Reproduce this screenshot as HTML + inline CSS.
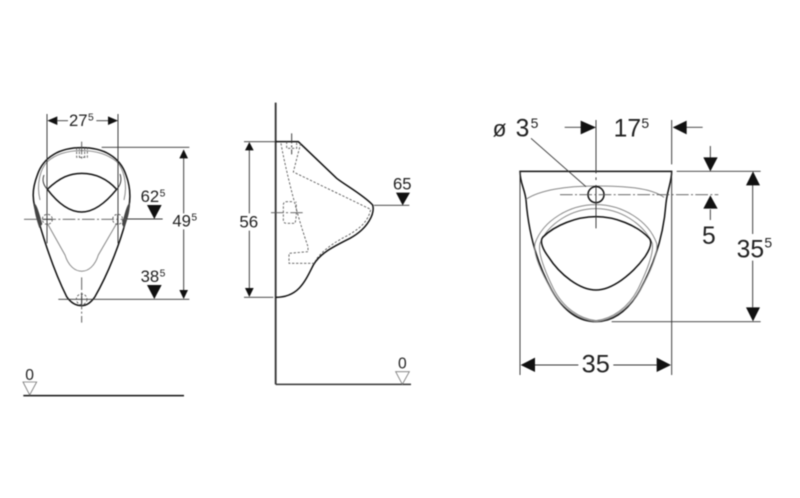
<!DOCTYPE html>
<html><head><meta charset="utf-8">
<style>
html,body{margin:0;padding:0;background:#fff;width:800px;height:498px;overflow:hidden}
svg{display:block;filter:blur(.4px)}
text{font-family:"Liberation Sans",sans-serif;fill:#222}
.d{stroke:#111;fill:none;stroke-width:4.5}
.t{stroke:#333;fill:none;stroke-width:2.8}
.g{stroke:#888;fill:none;stroke-width:3}
.da{stroke:#555;fill:none;stroke-width:2.6;stroke-dasharray:7 5}
.c{stroke:#555;fill:none;stroke-width:2.8;stroke-dasharray:38 7 6 7}
.a{fill:#111;stroke:none}
</style></head>
<body>
<svg width="800" height="498" viewBox="0 0 800 498" xmlns="http://www.w3.org/2000/svg">
<rect width="800" height="498" fill="#fff"/>

<!-- LEFT VIEW -->
<g transform="translate(20,100) scale(.33333)">
  <path class="d" d="M185 143C250 143 300 170 318 225C335 270 332 310 318 360C300 430 265 520 225 590C210 612 195 617 185 617C170 617 155 612 140 590C105 520 75 430 55 360C35 300 35 270 52 225C70 170 120 143 185 143Z"/>
  <path class="g" d="M60 300C48 250 62 205 82 185C110 160 150 152 185 152C225 152 262 162 290 185C310 205 324 250 312 300"/>
  <path class="g" d="M82 370L135 465C155 530 215 530 235 465L290 370"/>
  <path class="d" d="M82 268C120 232 150 220 185 220C225 220 260 235 290 268C260 305 225 336 185 336C145 336 110 305 82 268Z"/>
  <path class="t" d="M82 268C70 255 66 240 72 225M290 268C302 255 306 240 300 222"/>
  <path d="M42 310C50 310 58 340 67 372L58 384C50 360 42 335 42 310Z" fill="#444"/>
  <path d="M330 308C322 310 314 340 306 372L312 386C322 360 330 335 330 308Z" fill="#444"/>
  <path class="t" d="M81 42V430M294 42V430"/>
  <path class="a" d="M82 62L112 49V75ZM294 62L264 49V75Z"/>
  <path class="t" d="M112 62H144M229 62H264"/>
  <text x="147" y="78" font-size="50">27</text><text x="204" y="62" font-size="31">5</text>
  <path class="t" d="M245 142H508M115 598H508M491 170V340M491 388V570"/>
  <path class="a" d="M491 148L504 175H478ZM491 597L478 570H504Z"/>
  <text x="457" y="380" font-size="50">49</text><text x="514" y="362" font-size="31">5</text>
  <path class="a" d="M381 315H425L403 357ZM381 555H425L403 597Z"/>
  <path class="t" d="M320 357H428"/>
  <text x="362" y="306" font-size="50">62</text><text x="419" y="290" font-size="31">5</text>
  <text x="362" y="546" font-size="50">38</text><text x="419" y="530" font-size="31">5</text>
  <path class="c" d="M12 358H320"/>
  <path class="c" d="M185 125V178"/>
  <path class="c" d="M185 532V668"/>
  <path class="da" d="M170 143V172H202V143M178 143V172M194 143V172"/>
  <circle class="da" stroke-dasharray="4 3" cx="82" cy="358" r="15"/>
  <circle class="da" stroke-dasharray="4 3" cx="293" cy="358" r="15"/>
  <circle class="da" stroke-dasharray="4 3" cx="185" cy="598" r="16"/>
  <path class="t" d="M67 358H97M293 343V373M185 582V614"/>
</g>

<!-- SIDE VIEW -->
<g transform="translate(230,100) scale(.33333)">
  <path stroke="#333" stroke-width="5.5" fill="none" d="M137 8V853"/>
  <path class="d" d="M137 125H205L320 235C345 255 400 285 428 315C435 340 415 385 360 415C310 440 270 460 250 495C225 545 205 592 137 592"/>
  <path class="t" d="M42 125H137M42 592H130M58 150V340M58 392V565M432 316H538"/>
  <path class="a" d="M58 126L71 151H45ZM58 591L45 564H71ZM498 278H540L518 316Z"/>
  <text x="28" y="382" font-size="51">56</text>
  <text x="489" y="268" font-size="50">65</text>
  <path class="da" d="M153 130C160 175 195 330 234 440L234 455L177 460V490H255"/>
  <path class="da" d="M212 130L190 216L422 328C416 358 398 382 350 408C315 426 278 450 256 482"/>
  <path class="da" d="M170 125V145H200V125"/>
  <path class="da" d="M186 305H170Q160 305 160 315V360Q160 370 170 370H195C200 350 200 330 198 305"/>
  <path class="c" stroke-dasharray="30 6 6 6" d="M123 338H218"/>
  <path class="t" d="M185 100V163" stroke-dasharray="30 6 6 6"/>
</g>

<!-- RIGHT VIEW -->
<g transform="translate(480,110) scale(.33333)">
  <path class="d" d="M120 184H575C575 215 562 240 558 280C552 360 530 450 480 540C440 610 395 635 348 635C300 635 255 610 215 540C165 450 145 360 138 270C134 235 120 220 120 184Z"/>
  <path class="g" d="M138 268C180 240 260 228 345 228C430 228 510 232 552 262"/>
  <path class="g" d="M348 635C300 630 250 600 215 540C185 490 158 430 165 400C190 330 270 284 348 284C425 284 505 330 530 400C535 430 510 490 480 540C445 600 395 630 348 635Z"/>
  <path class="g" d="M348 632C300 626 250 595 220 535C198 490 172 430 180 400C205 340 275 296 348 296C420 296 490 340 517 400C522 430 497 490 475 535C445 595 395 626 348 632Z"/>
  <path class="d" d="M188 382C225 345 290 320 348 320C405 320 470 345 508 385C520 400 505 425 495 440C455 495 395 540 348 540C300 540 240 495 205 440C190 420 178 395 188 382Z"/>
  <circle cx="348" cy="254" r="24" fill="none" stroke="#111" stroke-width="4.5"/>
  <path class="t" d="M120 184V795M575 30V163M575 184V795"/>
  <path class="t" d="M254 52H305M348 30V190M348 202V210M348 225V355M618 52H668M153 85L318 230"/>
  <path class="c" stroke-dasharray="60 9 10 9" d="M240 254H715"/>
  <path class="t" d="M590 184H842M395 635H842M691 108V143M691 298V330M818 225V372M818 452V592"/>
  <path class="a" d="M302 32L348 52L302 73ZM620 32L578 52L620 73ZM670 142H713L691 184ZM670 296H713L691 256ZM798 226H840L819 184ZM798 592H840L819 634Z"/>
  <path class="a" d="M122 765L165 743V786ZM573 765L530 743V786Z"/>
  <path class="t" d="M165 765H295M400 765H530"/>
  <text x="38" y="79" font-size="68">ø</text>
  <text x="107" y="79" font-size="74">3</text><text x="152" y="54" font-size="42">5</text>
  <text x="401" y="79" font-size="74">17</text><text x="484" y="54" font-size="42">5</text>
  <text x="666" y="402" font-size="74">5</text>
  <text x="770" y="442" font-size="74">35</text><text x="853" y="412" font-size="42">5</text>
  <text x="305" y="787" font-size="76">35</text>
</g>

<!-- GROUND -->
<g transform="translate(10,350) scale(.33333)">
  <path stroke="#111" stroke-width="4.5" d="M40 137H522"/>
  <path stroke="#333" stroke-width="4.5" fill="none" d="M797 103H1203"/>
  <path fill="none" stroke="#777" stroke-width="2.5" d="M39 96H80L59 135ZM1157 65H1198L1177 103Z"/>
  <text x="59" y="90" font-size="47" text-anchor="middle">0</text>
  <text x="1177" y="56" font-size="47" text-anchor="middle">0</text>
</g>
</svg>
</body></html>
